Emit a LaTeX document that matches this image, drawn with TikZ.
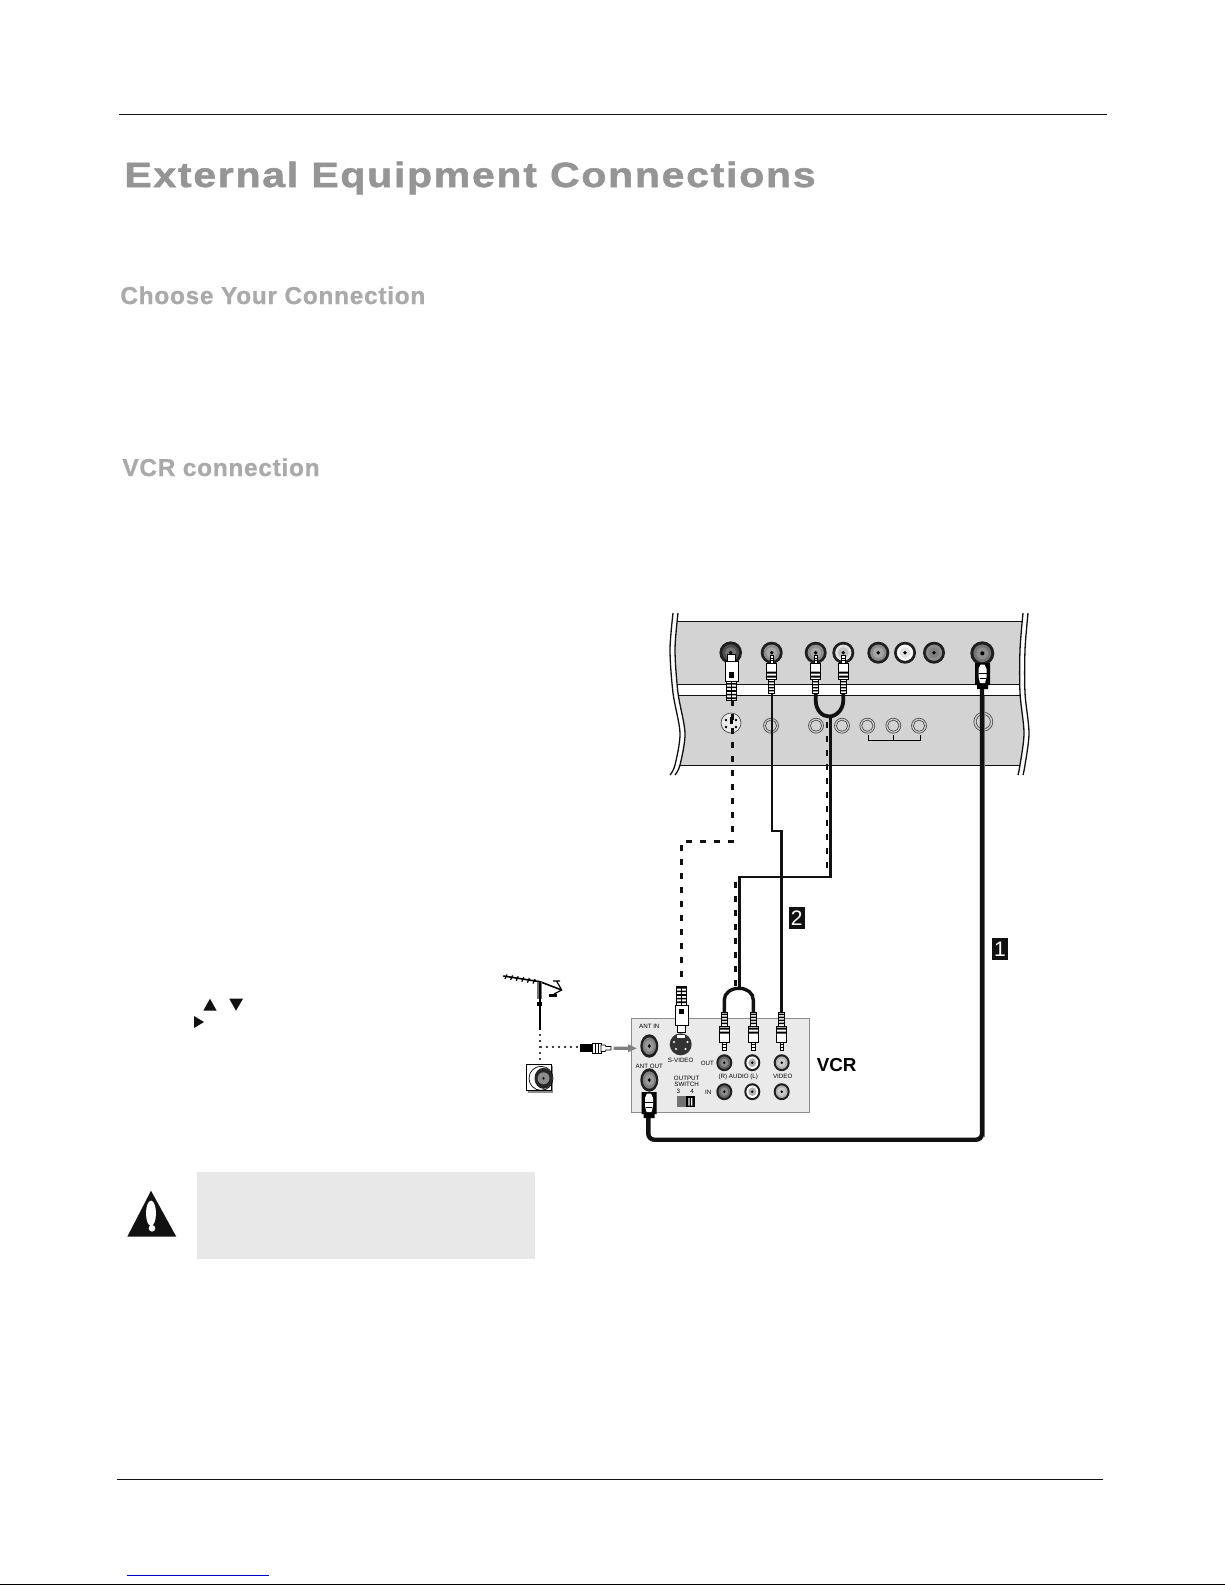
\documentclass[tikz,border=0pt]{standalone}
\usepackage{fontspec}
\setmainfont{Liberation Sans}
\newfontfamily\bigspaced{Liberation Sans}[LetterSpace=5,FakeStretch=1.17,BoldFeatures={FakeBold=1.5}]
\newfontfamily\midspaced{Liberation Sans}[LetterSpace=3,BoldFeatures={FakeBold=0.8}]
\definecolor{panelgray}{HTML}{D3D3D3}
\definecolor{vcrgray}{HTML}{EAEAEA}
\definecolor{cautiongray}{HTML}{E8E8E8}
\definecolor{headgray}{HTML}{959595}
\definecolor{subgray}{HTML}{AAAAAA}
\definecolor{inkblack}{HTML}{111111}
\tikzset{
  heading/.style={anchor=base west,inner sep=0pt,font=\bigspaced\bfseries\fontsize{17.5}{20}\selectfont,text=headgray},
  subheading/.style={anchor=base west,inner sep=0pt,font=\midspaced\bfseries\fontsize{12.2}{14}\selectfont,text=subgray},
  tiny label/.style={inner sep=0pt,font=\fontsize{3.1}{3.5}\selectfont,text=black},
  badge/.style={fill=inkblack,text=white,inner sep=0pt,font=\fontsize{10.5}{12}\selectfont},
  rule line/.style={line width=0.6pt,color=inkblack},
  edge line/.style={line width=0.65pt,color=inkblack},
  panel line/.style={line width=0.6pt,color=inkblack},
  cable main/.style={line width=2.2pt,color=inkblack,rounded corners=3pt},
  cable thin/.style={line width=1.35pt,color=inkblack},
  cable fork/.style={line width=1.9pt,color=inkblack},
  cable sv/.style={line width=1.7pt,color=inkblack,dash pattern=on 3pt off 4pt},
  cable audio/.style={line width=1.3pt,color=inkblack,dash pattern=on 3pt off 4pt},
  dots/.style={line width=1pt,color=black!75,dash pattern=on 1pt off 2pt},
  printed ring/.style={line width=0.35pt,color=black!70},
  plug part/.style={draw=black,line width=0.35pt,fill=white}
}
% jack: name, x, y, rx, ry, ring colour, inner colour
\newcommand{\jackat}[7]{%
  \coordinate (#1) at (#2,#3);
  \fill[black!88] (#1) ellipse [x radius=#4,y radius=#5];
  \fill[#6] (#1) ellipse [x radius=#4*0.74,y radius=#5*0.74];
  \fill[#7] (#1) ellipse [x radius=#4*0.5,y radius=#5*0.5];
  \fill[black] (#1) ellipse [x radius=#4*0.17,y radius=#5*0.17];
}
% printed double ring on the panel
\newcommand{\ringat}[4]{%
  \coordinate (#1) at (#2,#3);
  \draw[printed ring] (#1) circle [radius=#4];
  \draw[printed ring] (#1) circle [radius=#4*0.75];
}
% RCA plug: x, y of tip end, direction
\newcommand{\rcaplug}[3]{%
  \begin{scope}[shift={(#1,#2)},yscale=#3]
    \draw[plug part] (-1.8,0) rectangle (1.8,8);
    \draw[black,line width=0.4pt] (-1.8,3) -- (1.8,3) (-1.8,5.5) -- (1.8,5.5);
    \draw[plug part] (-5,8) rectangle (5,24);
    \fill[black] (-5,16.5) rectangle (5,18.5) (-5,20.5) rectangle (5,22.5);
    \draw[plug part] (-3,24) rectangle (3,38);
    \fill[black] (-3,26) rectangle (3,27.3) (-3,29) rectangle (3,30.3) (-3,32) rectangle (3,33.3) (-3,35) rectangle (3,36.3);
  \end{scope}}
% S-video plug: x, y of tip end, direction
\newcommand{\svplug}[3]{%
  \begin{scope}[shift={(#1,#2)},yscale=#3]
    \draw[plug part] (-4,0) rectangle (4,7);
    \draw[plug part] (-6.5,7) rectangle (6.5,27);
    \fill[black] (-2.6,18) rectangle (2.6,23.5);
    \draw[plug part] (-5,27) rectangle (5,46);
    \fill[black] (-5,29) rectangle (5,30.6) (-5,32.6) rectangle (5,34.2) (-5,36.2) rectangle (5,37.8) (-5,39.8) rectangle (5,41.4) (-5,43.4) rectangle (5,45);
    \draw[black,line width=0.3pt] (0,27) -- (0,46);
  \end{scope}}
% F plug: x, top y
\newcommand{\fplug}[2]{%
  \begin{scope}[shift={(#1,#2)}]
    \fill[black] (-7.5,0) rectangle (7.5,22) (-5.5,22) rectangle (5.5,26);
    \fill[white] (-2,1.5) -- (2,1.5) -- (4,6) -- (4,14) -- (2.5,20) -- (-2.5,20) -- (-4,14) -- (-4,6) -- cycle;
    \draw[black,line width=0.3pt] (-4,10) -- (4,10) (-3,15) -- (3,15);
  \end{scope}}
\begin{document}
\begin{tikzpicture}[x=0.5pt,y=-0.5pt]
\useasboundingbox (0,0) rectangle (1225,1585);
\fill[white] (0,0) rectangle (1225,1585);

% page rules
\coordinate (topL) at (119,114.7); \coordinate (topR) at (1106.5,114.7);
\draw[rule line] (topL) -- (topR);
\coordinate (botL) at (117,1479.3); \coordinate (botR) at (1102.5,1479.3);
\draw[rule line] (botL) -- (botR);
\coordinate (blueL) at (127,1575.4); \coordinate (blueR) at (269,1575.4);
\draw[line width=0.6pt,color=blue!80!black] (blueL) -- (blueR);
\coordinate (edgeL) at (0,1584.3); \coordinate (edgeR) at (1225,1584.3);
\draw[line width=0.7pt,color=black] (edgeL) -- (edgeR);

% headings
\node[heading] (title) at (124,187) {External Equipment Connections};
\node[subheading] (choose) at (120,304) {Choose Your Connection};
\node[subheading] (vcrconn) at (122,476) {VCR connection};

% TV panel
\begin{scope}
  \clip plot[smooth] coordinates {(678,613) (675,650) (678,693) (685,733) (680,765) (675,775)}
     -- plot[smooth] coordinates {(1018,775) (1020,765) (1024,733) (1020,693) (1020,650) (1023,613)} -- cycle;
  \fill[panelgray] (600,621.7) rectangle (1100,765.7);
  \fill[white] (600,684.3) rectangle (1100,695.7);
  \draw[panel line] (600,621.7) -- (1100,621.7) (600,684.3) -- (1100,684.3) (600,695.7) -- (1100,695.7) (600,765.7) -- (1100,765.7);
\end{scope}
\draw[edge line] plot[smooth] coordinates {(678,613) (675,650) (678,693) (685,733) (680,765) (675,775)};
\draw[edge line] plot[smooth] coordinates {(673,613) (670,650) (673,693) (680,733) (675,765) (670,775)};
\draw[edge line] plot[smooth] coordinates {(1023,613) (1020,650) (1020,693) (1024,733) (1020,765) (1018,775)};
\draw[edge line] plot[smooth] coordinates {(1028,613) (1025,650) (1025,693) (1029,733) (1025,765) (1023,775)};

% panel jacks
\jackat{tvS}{730.7}{652.7}{11.3}{11.3}{black!70}{black!55}
\jackat{tvV}{771.7}{652.7}{11}{11}{black!45}{black!35}
\jackat{tvL}{815.7}{652.7}{11}{11}{black!45}{black!35}
\jackat{tvR}{843.3}{652.7}{11}{11}{black!12}{black!25}
\jackat{tvA}{878.3}{652.7}{11}{11}{black!45}{black!35}
\jackat{tvB}{905}{652.7}{11}{11}{white}{black!12}
\jackat{tvC}{934}{652.7}{11}{11}{black!45}{black!50}
\jackat{tvF}{982.3}{653.3}{12}{12}{black!55}{black!45}

% printed sockets on the panel
\coordinate (prS) at (731,723);
\fill[black!8] (prS) circle [radius=10];
\draw[printed ring] (prS) circle [radius=10];
\fill[black] (726,720) circle [radius=1.4] (736,720) circle [radius=1.4] (726,727) circle [radius=1.4] (736,727) circle [radius=1.4];
\fill[black] (729.5,717) rectangle (733,724);
\ringat{prV}{771}{725.7}{7.5}
\ringat{prL}{816}{725.7}{7.5}
\ringat{prR}{842}{725.7}{7.5}
\ringat{prA}{867.3}{725.7}{7.5}
\ringat{prB}{893.3}{725.7}{7.5}
\ringat{prC}{919}{725.7}{7.5}
\ringat{prF}{983.3}{721.7}{9.5}
\draw[line width=0.4pt,black] (868.3,735) -- (868.3,740) -- (920.7,740) -- (920.7,735) (893.8,735) -- (893.8,740);

% VCR box
\node[draw=black!45,fill=vcrgray,line width=0.6pt,inner sep=0pt,minimum width=88.8pt,minimum height=47.2pt] (vcrbox) at (720.5,1065.5) {};

% VCR jacks
\jackat{vAin}{649.3}{1046}{9}{11.7}{black!50}{black!40}
\jackat{vAout}{649.3}{1080}{9}{11.7}{black!50}{black!40}
\coordinate (vS) at (680.7,1044.3);
\fill[black!80] (vS) circle [radius=11];
\fill[white] (677,1034.5) rectangle (684.5,1038);
\fill[white] (674,1042) circle [radius=1.1] (687.5,1042) circle [radius=1.1] (676,1049) circle [radius=1.1] (685.5,1049) circle [radius=1.1];
\jackat{vOR}{724.3}{1062.7}{8}{8.5}{black!60}{black!45}
\jackat{vOL}{752.3}{1062.7}{8}{8.5}{white}{black!30}
\jackat{vOV}{781.7}{1062.7}{8}{8.5}{black!30}{black!20}
\jackat{vIR}{724.3}{1091.7}{8}{8.5}{black!60}{black!45}
\jackat{vIL}{752.3}{1091.7}{8}{8.5}{white}{black!30}
\jackat{vIV}{781.7}{1091.7}{8}{8.5}{black!30}{black!20}

% VCR labels
\node[tiny label] (lAin) at (649.3,1026.7) {ANT IN};
\node[tiny label] (lAout) at (649.3,1066) {ANT OUT};
\node[tiny label] (lSv) at (680.7,1060) {S-VIDEO};
\node[tiny label] (lOut) at (707.3,1063.3) {OUT};
\node[tiny label] (lIn) at (708.3,1092.7) {IN};
\node[tiny label] (lAudio) at (738.3,1076.7) {(R) AUDIO (L)};
\node[tiny label] (lVideo) at (782.7,1076.7) {VIDEO};
\node[tiny label] (lOutput) at (686.7,1078.3) {OUTPUT};
\node[tiny label] (lSwitch) at (686.7,1084.8) {SWITCH};
\node[tiny label] (l3) at (678.3,1091.7) {3};
\node[tiny label] (l4) at (692,1091.7) {4};
\fill[black!55] (676.7,1096) rectangle (686,1107.3);
\fill[black] (686,1096) rectangle (694.7,1107.3);
\fill[white] (688.3,1098) rectangle (689.6,1105.5) (691,1098) rectangle (692.3,1105.5);
\node[inner sep=0pt,font=\bfseries\fontsize{9.4}{11}\selectfont] (vcrlabel) at (836.7,1065) {VCR};

% connectors: cable end points
\coordinate (svTop) at (732.5,700);
\coordinate (svBend1) at (732.5,841.5);
\coordinate (svBend2) at (681.7,841.5);
\coordinate (svBot) at (681.7,981);
\draw[cable sv] (svTop) -- (svBend1) -- (svBend2) -- (svBot);

\coordinate (audTop) at (827,722);
\coordinate (audBend1) at (827,877);
\coordinate (audBend2) at (735.3,877);
\coordinate (audBot) at (735.3,988);
\draw[cable audio] (audTop) -- (audBend1) -- (audBend2) -- (audBot);

\coordinate (forkTop) at (830.2,716);
\coordinate (forkBend1) at (830.2,877);
\coordinate (forkBend2) at (739.3,877);
\coordinate (forkBot) at (739.3,988);
\draw[cable thin] (forkTop) -- (forkBend1) -- (forkBend2) -- (forkBot);

\coordinate (vidTop) at (771.9,692);
\coordinate (vidBend1) at (771.9,831);
\coordinate (vidBend2) at (781.7,831);
\coordinate (vidBot) at (781.7,1012);
\draw[cable thin] (vidTop) -- (vidBend1) -- (vidBend2) -- (vidBot);

\coordinate (ftvTop) at (982,688);
\coordinate (fCorner1) at (982,1139.7);
\coordinate (fCorner2) at (648.3,1139.7);
\coordinate (fvcrTop) at (648.3,1116);
\draw[black!50,line width=0.5pt] (984.6,696) -- (984.6,1137);
\draw[cable main] (ftvTop) -- (fCorner1) -- (fCorner2) -- (fvcrTop);

% Y branches
\coordinate (yL) at (815.7,692);
\coordinate (yR) at (843.3,692);
\coordinate (yJoin) at (829,716.5);
\draw[cable fork] (yL) -- (815.7,700) .. controls (815.7,710) and (822,716.5) .. (yJoin);
\draw[cable fork] (yR) -- (843.3,700) .. controls (843.3,710) and (836,716.5) .. (yJoin);
\coordinate (vyL) at (724.3,1012);
\coordinate (vyR) at (753.3,1012);
\coordinate (vyJoin) at (739,988.3);
\draw[line width=1.7pt,inkblack] (vyL) -- (724.3,1000) .. controls (724.3,993) and (731,988.3) .. (vyJoin);
\draw[line width=1.7pt,inkblack] (vyR) -- (753.3,1000) .. controls (753.3,993) and (747,988.3) .. (vyJoin);

% plugs
\svplug{731.5}{654}{1}
\rcaplug{771.7}{655}{1}
\rcaplug{815.7}{655}{1}
\rcaplug{843.3}{655}{1}
\fplug{982.5}{663}
\svplug{681.7}{1032}{-1}
\rcaplug{724.3}{1050}{-1}
\rcaplug{753.3}{1050}{-1}
\rcaplug{781.7}{1050}{-1}
\fplug{649}{1092}

% numbered tags
\node[badge,minimum width=8.2pt,minimum height=10.8pt] (tag2) at (796.7,917.8) {2};
\node[badge,minimum width=7.7pt,minimum height=10.8pt] (tag1) at (1000,949.2) {1};

% antenna
\draw[line width=0.8pt,black] (503.3,976) -- (540,981.7) -- (561.7,990);
\foreach \t in {0,1,2,3,4,5}{
  \draw[line width=0.6pt,black] ({507+\t*5.6},{974.5+\t*0.9}) -- ({505+\t*5.6},{979+\t*0.9});
}
\draw[line width=0.6pt,black] (553,981) -- (560,981) (556.5,981) -- (561.7,990) -- (554,994);
\draw[line width=1.2pt,black] (549,995.3) -- (557,995.3);
\fill[black!55] (537,982) rectangle (541.5,999);
\fill[black] (538.5,982) rectangle (540.5,1030);
\fill[black] (536.5,1002) rectangle (542,1006);
\coordinate (antBot) at (540,1034);
\coordinate (antJ) at (540,1047.3);
\coordinate (antWall) at (540,1060);
\coordinate (antPlug) at (578,1047.3);
\draw[dots] (antBot) -- (antWall);
\draw[dots] (antJ) -- (antPlug);
% wall plate
\fill[black!45] (528,1066) rectangle (553,1092.5);
\draw[draw=black,fill=white,line width=0.5pt] (526.7,1064.3) rectangle (551.5,1090.5);
\coordinate (wall) at (543.5,1078.3);
\draw[line width=0.35pt,black] (541,1078.3) circle [radius=12];
\fill[black!85] (wall) ellipse [x radius=9,y radius=10.5];
\fill[black!45] (wall) circle [radius=6];
\fill[black] (wall) circle [radius=1.2];
% antenna plug and arrow
\fill[black] (580,1044.3) rectangle (592.7,1052.3);
\draw[draw=black,fill=white,line width=0.4pt] (592.7,1043.5) rectangle (601,1053);
\draw[line width=0.3pt,black] (595,1043.5) -- (595,1053) (598,1043.5) -- (598,1053);
\draw[draw=black,fill=white,line width=0.4pt] (601,1045) -- (605,1045) -- (606,1046.5) -- (611,1046.5) -- (611,1050) -- (606,1050) -- (605,1051.5) -- (601,1051.5) -- cycle;
\fill[black!50] (613.5,1046.7) -- (628,1046.7) -- (628,1044.3) -- (636.7,1048.3) -- (628,1052.3) -- (628,1049.9) -- (613.5,1049.9) -- cycle;

% menu triangles
\fill[inkblack] (203.3,1010.7) -- (216.7,1010.7) -- (210,998.7) -- cycle;
\fill[inkblack] (229.3,998.7) -- (243,998.7) -- (236,1010.7) -- cycle;
\fill[inkblack] (194,1016) -- (194,1028) -- (204,1022) -- cycle;

% caution
\fill[cautiongray] (197,1172) rectangle (534.6,1259);
\fill[inkblack] (151,1190.7) -- (127.3,1236.7) -- (176.3,1236.7) -- cycle;
\fill[white] (151,1213.3) ellipse [x radius=5,y radius=12.7];
\fill[white] (152,1228.3) circle [radius=3.3];
\end{tikzpicture}
\end{document}
